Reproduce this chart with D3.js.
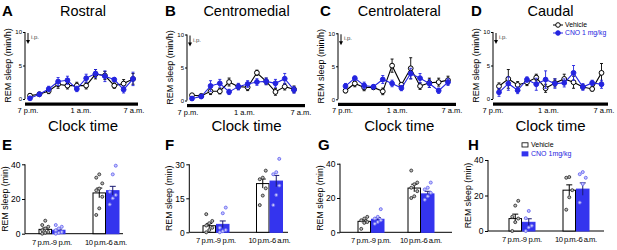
<!DOCTYPE html>
<html>
<head>
<meta charset="utf-8">
<script src="https://cdn.jsdelivr.net/npm/d3@7"></script>
<style>
  body { margin: 0; background: #fff; }
  svg { display: block; font-family: "Liberation Sans", Arial, sans-serif; }
</style>
</head>
<body>
<script>
// ---- data ----
var hours = ["7 p.m.", "8 p.m.", "9 p.m.", "10 p.m.", "11 p.m.", "12 a.m.",
             "1 a.m.", "2 a.m.", "3 a.m.", "4 a.m.", "5 a.m.", "6 a.m."];
var timeTicks = ["7 p.m.", "1 a.m.", "7 a.m."];

var rostralVeh    = [0.5, 0.7, 1.2, 2.2, 2.0, 2.0, 2.0, 3.7, 3.5, 2.0, 2.3, 3.0];
var rostralVehErr = [0.3, 0.3, 0.4, 0.6, 0.5, 0.5, 0.5, 0.7, 0.6, 0.4, 0.6, 0.8];
var rostralCno    = [0.1, 0.7, 1.5, 2.6, 2.8, 1.5, 3.1, 3.8, 3.4, 2.9, 1.4, 3.0];
var rostralCnoErr = [0.2, 0.3, 0.4, 0.6, 0.6, 0.4, 0.6, 0.6, 0.8, 0.3, 0.5, 1.0];

var medialVeh    = [0.8, 0.7, 1.4, 1.4, 2.8, 2.1, 2.0, 4.2, 2.9, 1.3, 2.1, 1.7];
var medialVehErr = [0.2, 0.2, 0.5, 0.4, 0.6, 0.4, 0.5, 0.4, 0.5, 0.5, 0.5, 0.5];
var medialCno    = [0.3, 0.6, 2.2, 2.6, 1.3, 2.1, 2.5, 2.8, 2.9, 2.6, 3.3, 1.6];
var medialCnoErr = [0.3, 0.3, 0.8, 0.6, 0.4, 0.5, 0.5, 0.5, 0.5, 0.6, 0.8, 0.5];

var lateralVeh    = [1.3, 2.4, 1.8, 1.8, 1.2, 5.1, 2.2, 4.7, 2.0, 2.5, 2.6, 2.9];
var lateralVehErr = [0.3, 0.5, 0.5, 0.3, 0.5, 1.0, 0.3, 1.6, 0.5, 0.7, 0.6, 0.6];
var lateralCno    = [2.0, 3.2, 2.1, 1.9, 3.0, 2.4, 1.7, 3.9, 3.2, 2.4, 1.3, 2.6];
var lateralCnoErr = [0.4, 0.3, 0.5, 0.3, 0.6, 0.5, 0.4, 0.8, 0.7, 0.6, 0.4, 0.5];

var caudalVeh    = [1.9, 3.0, 2.1, 2.5, 3.2, 1.6, 2.4, 3.0, 2.5, 1.8, 1.5, 3.9];
var caudalVehErr = [0.5, 1.4, 0.5, 0.5, 0.5, 0.6, 0.6, 0.7, 0.9, 0.3, 0.3, 1.4];
var caudalCno    = [1.0, 2.3, 1.3, 2.9, 2.2, 2.9, 2.3, 2.4, 3.9, 1.8, 2.4, 2.2];
var caudalCnoErr = [0.6, 1.0, 0.5, 0.4, 0.9, 1.3, 0.7, 0.6, 1.1, 0.5, 0.4, 0.6];

var periods = ["7 p.m.-9 p.m.", "10 p.m.-6 a.m."];

var eVeh = [2.5, 23.5], eVehErr = [0.8, 2.8], eCno = [2.0, 24.8], eCnoErr = [0.6, 2.5];
var eVehDots = [[0, 0.5, 1, 2, 3, 4, 5, 7.5], [10.8, 14.6, 21.3, 25, 26, 29, 32.3, 34.2]];
var eCnoDots = [[0, 0.5, 1, 2, 3, 4, 5], [16.9, 20.4, 22.3, 24.2, 34.2, 39.2]];

var fVeh = [2.9, 21.5], fVehErr = [1.0, 2.0], fCno = [3.5, 22.6], fCnoErr = [1.5, 2.5];
var fVehDots = [[0, 1, 2, 3, 4, 5, 8], [12, 16.2, 19.4, 23.4, 24.1, 27.2]];
var fCnoDots = [[0, 0.5, 1, 2, 8.4, 10.9], [12, 16.5, 20.6, 25.6, 26.5, 32.4]];

var gVeh = [6.4, 25.8], gVehErr = [0.9, 2.2], gCno = [7.6, 22.4], gCnoErr = [1.0, 1.5];
var gVehDots = [[2, 5.5, 6, 7, 8, 9], [20, 21, 24, 26, 28, 29, 36]];
var gCnoDots = [[5, 6, 7, 8, 9, 13.5], [19, 21, 23, 25, 26, 29]];

var hVeh = [7.0, 23.0], hVehErr = [2.5, 3.0], hCno = [4.9, 23.6], hCnoErr = [2.0, 3.5];
var hVehDots = [[0, 5, 7, 8, 14.3, 17], [12, 19, 23, 30, 30.4]];
var hCnoDots = [[0, 2, 3, 7.2, 11.3], [16, 26.5, 30, 32, 33.2]];

// ---- styles ----
var blue = "#2424e0", blueBar = "#3434ee", blueDot = "#6a6af2";

var svg = d3.select("body").append("svg").attr("width", 617).attr("height", 250);

function panelLetter(x, y, s) {
  svg.append("text").attr("x", x).attr("y", y).attr("font-size", 15)
    .attr("font-weight", "bold").text(s);
}

function lineChart(o) {
  var g = svg.append("g");
  var x = d3.scalePoint().domain(d3.range(hours.length)).range([o.p0, o.p1]);
  var t = d3.scaleLinear().domain([0, 12]).range([o.t0, o.t1]);
  var y = d3.scaleLinear().domain([0, 10]).range([o.y0, o.y10]);

  // title
  g.append("text").attr("x", (o.t0 + o.t1) / 2 + 2).attr("y", 16)
    .attr("text-anchor", "middle").attr("font-size", 14.5).text(o.title);

  // y axis
  var ya = g.append("g").attr("transform", "translate(" + o.ax + ",0)")
    .call(d3.axisLeft(y).tickValues([0, 5, 10]).tickSize(2).tickPadding(1));
  ya.selectAll("text").attr("font-size", 6).attr("font-family", "inherit");
  ya.select(".domain").attr("d", "M0," + o.y0 + "V" + o.y10);

  g.append("text")
    .attr("transform", "translate(" + (o.ax - 14) + "," + ((o.y0 + o.y10) / 2) + ") rotate(-90)")
    .attr("text-anchor", "middle").attr("font-size", 9).text("REM sleep (min/h)");

  // i.p. arrow
  g.append("line").attr("x1", o.ax + 3).attr("x2", o.ax + 3)
    .attr("y1", o.y10 + 1).attr("y2", o.y10 + 10).attr("stroke", "#000").attr("stroke-width", 1);
  g.append("path").attr("d", "M" + (o.ax + 1) + "," + (o.y10 + 8) + "L" + (o.ax + 5) + "," + (o.y10 + 8) +
    "L" + (o.ax + 3) + "," + (o.y10 + 12) + "Z").attr("fill", "#000");
  g.append("text").attr("x", o.ax + 6).attr("y", o.y10 + 7).attr("font-size", 6)
    .attr("fill", "#444").text("i.p.");

  // dark-phase bar
  g.append("rect").attr("x", o.ax).attr("y", o.y0 + 3.5)
    .attr("width", t(12) + 4 - o.ax).attr("height", 3.2).attr("fill", "#000");

  g.selectAll(".tlab").data(timeTicks).enter().append("text")
    .attr("x", function(d, i) { return t(i * 6); })
    .attr("y", o.y0 + 14).attr("text-anchor", "middle").attr("font-size", 7.5)
    .text(function(d) { return d; });

  g.append("text").attr("x", (o.t0 + o.t1) / 2 + 2).attr("y", 130.5)
    .attr("text-anchor", "middle").attr("font-size", 15).text("Clock time");

  var line = d3.line().x(function(d, i) { return x(i); }).y(function(d) { return y(d); });

  [{v: o.veh, e: o.vehErr, c: "#000", f: "#fff"},
   {v: o.cno, e: o.cnoErr, c: blue, f: blue}].forEach(function(s) {
    var sg = g.append("g");
    sg.selectAll(".err").data(s.v).enter().append("path")
      .attr("d", function(d, i) {
        var xi = x(i), a = y(d - s.e[i]), b = y(d + s.e[i]);
        return "M" + xi + "," + a + "V" + b + "M" + (xi - 1.5) + "," + a + "H" + (xi + 1.5) +
          "M" + (xi - 1.5) + "," + b + "H" + (xi + 1.5);
      })
      .attr("stroke", s.c).attr("stroke-width", 0.9).attr("fill", "none");
    sg.append("path").datum(s.v).attr("d", line)
      .attr("fill", "none").attr("stroke", s.c).attr("stroke-width", 1.1);
    sg.selectAll("circle").data(s.v).enter().append("circle")
      .attr("cx", function(d, i) { return x(i); }).attr("cy", function(d) { return y(d); })
      .attr("r", 2.4).attr("fill", s.f).attr("stroke", s.c).attr("stroke-width", 1);
  });
}

function barChart(o) {
  var g = svg.append("g");
  var x = d3.scalePoint().domain(periods).range([o.c0, o.c1]);
  var y = d3.scaleLinear().domain([0, o.max]).range([o.y0, o.yTop]);
  var bw = 13.5;

  var ya = g.append("g").attr("transform", "translate(" + o.ax + ",0)")
    .call(d3.axisLeft(y).tickValues(o.ticks).tickSize(3).tickPadding(1.5));
  ya.selectAll("text").attr("font-size", 8.5).attr("font-family", "inherit");
  ya.select(".domain").attr("d", "M0," + o.y0 + "V" + o.yTop);

  g.append("line").attr("x1", o.ax).attr("x2", o.axEnd).attr("y1", o.y0).attr("y2", o.y0)
    .attr("stroke", "#000");

  g.selectAll(".clab").data(periods).enter().append("text")
    .attr("x", function(d) { return x(d); }).attr("y", o.y0 + 11)
    .attr("text-anchor", "middle").attr("font-size", 7.6)
    .attr("textLength", function(d, i) { return i ? 42 : 40; })
    .text(function(d) { return d; });

  g.append("text")
    .attr("transform", "translate(" + (o.ax - 17) + "," + ((o.y0 + o.yTop) / 2) + ") rotate(-90)")
    .attr("text-anchor", "middle").attr("font-size", 8.8).text("REM sleep (min)");

  var groups = [
    {v: o.veh, e: o.vehErr, dots: o.vehDots, off: -bw, fill: "#fff", stroke: "#000", ec: "#000", dc: "#333", df: "#bbb"},
    {v: o.cno, e: o.cnoErr, dots: o.cnoDots, off: 0, fill: blueBar, stroke: blueBar, ec: "#1a1a70", dc: blueDot, df: "#c8c8fa"}
  ];
  groups.forEach(function(s) {
    periods.forEach(function(p, i) {
      var bx = x(p) + s.off;
      g.append("rect").attr("x", bx + 0.5).attr("y", y(s.v[i]))
        .attr("width", bw - 1).attr("height", o.y0 - y(s.v[i]))
        .attr("fill", s.fill).attr("stroke", s.stroke).attr("stroke-width", 1);
      var cx = bx + bw / 2, a = y(s.v[i] - s.e[i]), b = y(s.v[i] + s.e[i]);
      g.append("path").attr("d", "M" + cx + "," + a + "V" + b + "M" + (cx - 3) + "," + b + "H" + (cx + 3))
        .attr("stroke", s.ec).attr("stroke-width", 1).attr("fill", "none");
      g.selectAll(null).data(s.dots[i]).enter().append("circle")
        .attr("cx", function(d, k) { return cx + ((k % 3) - 1) * 3; })
        .attr("cy", function(d) { return y(d); })
        .attr("r", 1.5).attr("fill", s.df).attr("stroke", s.dc).attr("stroke-width", 0.9);
    });
  });
}

// ---- top row ----
panelLetter(2, 16, "A");
panelLetter(165, 16, "B");
panelLetter(320, 16, "C");
panelLetter(471, 16, "D");

lineChart({title: "Rostral", ax: 25, p0: 30, p1: 133, t0: 28, t1: 134, y0: 99, y10: 32,
  veh: rostralVeh, vehErr: rostralVehErr, cno: rostralCno, cnoErr: rostralCnoErr});
lineChart({title: "Centromedial", ax: 187, p0: 192, p1: 294, t0: 188, t1: 301, y0: 100.5, y10: 34.5,
  veh: medialVeh, vehErr: medialVehErr, cno: medialCno, cnoErr: medialCnoErr});
lineChart({title: "Centrolateral", ax: 338, p0: 345.5, p1: 448, t0: 342.5, t1: 452, y0: 99.3, y10: 33.3,
  veh: lateralVeh, vehErr: lateralVehErr, cno: lateralCno, cnoErr: lateralCnoErr});
lineChart({title: "Caudal", ax: 493, p0: 499, p1: 601.5, t0: 493, t1: 604, y0: 99, y10: 32,
  veh: caudalVeh, vehErr: caudalVehErr, cno: caudalCno, cnoErr: caudalCnoErr});

// legend D
var legD = svg.append("g");
[{name: "Vehicle", c: "#000", f: "#fff", y: 25}, {name: "CNO 1 mg/kg", c: blue, f: blue, y: 33}]
  .forEach(function(d) {
    legD.append("line").attr("x1", 553).attr("x2", 563).attr("y1", d.y).attr("y2", d.y)
      .attr("stroke", d.c).attr("stroke-width", 1);
    legD.append("circle").attr("cx", 558).attr("cy", d.y).attr("r", 2.3)
      .attr("fill", d.f).attr("stroke", d.c);
    legD.append("text").attr("x", 565).attr("y", d.y + 2.3).attr("font-size", 6.8)
      .attr("fill", d.c).text(d.name);
  });

// ---- bottom row ----
panelLetter(2, 150, "E");
panelLetter(165, 150, "F");
panelLetter(318, 150, "G");
panelLetter(468, 150, "H");

barChart({ax: 25, axEnd: 123, c0: 52, c1: 106, y0: 233.7, yTop: 164.3, max: 40, ticks: [0, 20, 40],
  veh: eVeh, vehErr: eVehErr, cno: eCno, cnoErr: eCnoErr, vehDots: eVehDots, cnoDots: eCnoDots});
barChart({ax: 189.3, axEnd: 288, c0: 216, c1: 269.5, y0: 232.3, yTop: 164.3, max: 30, ticks: [0, 15, 30],
  veh: fVeh, vehErr: fVehErr, cno: fCno, cnoErr: fCnoErr, vehDots: fVehDots, cnoDots: fCnoDots});
barChart({ax: 340, axEnd: 452, c0: 371, c1: 421, y0: 232.3, yTop: 163.7, max: 40, ticks: [0, 20, 40],
  veh: gVeh, vehErr: gVehErr, cno: gCno, cnoErr: gCnoErr, vehDots: gVehDots, cnoDots: gCnoDots});
barChart({ax: 488, axEnd: 604, c0: 522, c1: 576, y0: 231, yTop: 160, max: 40, ticks: [0, 20, 40],
  veh: hVeh, vehErr: hVehErr, cno: hCno, cnoErr: hCnoErr, vehDots: hVehDots, cnoDots: hCnoDots});

// legend H
var legH = svg.append("g");
[{name: "Vehicle", fill: "#fff", stroke: "#000", tc: "#000", y: 145},
 {name: "CNO 1mg/kg", fill: blueBar, stroke: blueBar, tc: blue, y: 154}].forEach(function(d) {
  legH.append("rect").attr("x", 522).attr("y", d.y - 2.2).attr("width", 6).attr("height", 4.2)
    .attr("fill", d.fill).attr("stroke", d.stroke).attr("stroke-width", 0.8);
  legH.append("text").attr("x", 531).attr("y", d.y + 2.4).attr("font-size", 7)
    .attr("fill", d.tc).text(d.name);
});
</script>
</body>
</html>
